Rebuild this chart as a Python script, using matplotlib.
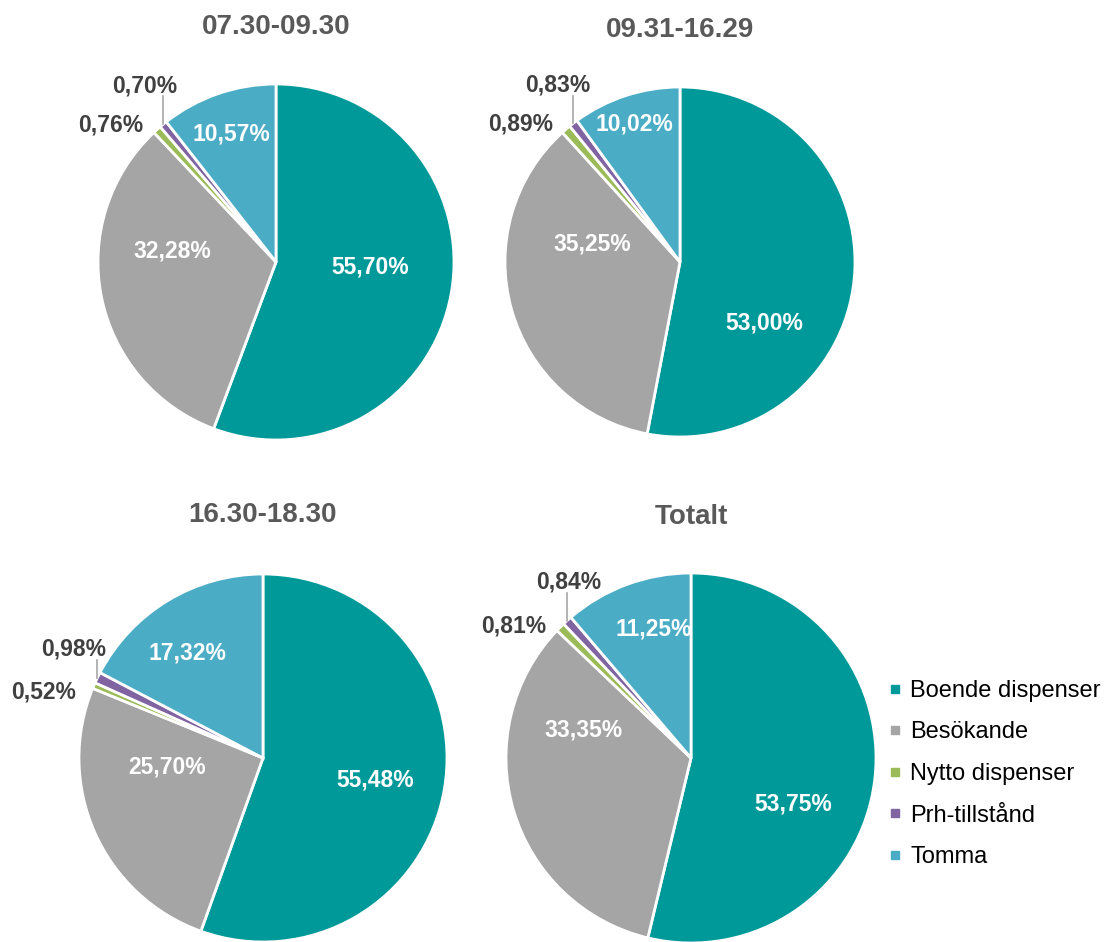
import numpy as np
import matplotlib.pyplot as plt
from matplotlib.lines import Line2D

# Data
categories = ["Boende dispenser", "Besökande", "Nytto dispenser", "Prh-tillstånd", "Tomma"]
titles = ["07.30-09.30", "09.31-16.29", "16.30-18.30", "Totalt"]
shares_0730 = [55.70, 32.28, 0.76, 0.70, 10.57]
shares_0931 = [53.00, 35.25, 0.89, 0.83, 10.02]
shares_1630 = [55.48, 25.70, 0.52, 0.98, 17.32]
shares_total = [53.75, 33.35, 0.81, 0.84, 11.25]
all_shares = [shares_0730, shares_0931, shares_1630, shares_total]

colors = ["#009999", "#A5A5A5", "#9BBB59", "#8064A2", "#4BACC6"]
inside = [True, True, False, False, True]

# Layout (pixels): pie centre x, centre y, radius
W, H = 1105, 942
pies = [(276, 262, 178), (680, 262, 175), (263, 758, 184), (691, 758, 185)]
title_y = [27, 30, 515, 517]

# label positions in pie units (radius = 1)
label_pos = [
    [(0.53, -0.03), (-0.58, 0.06), (-0.93, 0.77), (-0.74, 0.99), (-0.25, 0.72)],
    [(0.48, -0.35), (-0.50, 0.10), (-0.91, 0.79), (-0.70, 1.01), (-0.26, 0.79)],
    [(0.61, -0.12), (-0.52, -0.05), (-1.19, 0.36), (-1.03, 0.59), (-0.41, 0.57)],
    [(0.55, -0.25), (-0.58, 0.15), (-0.96, 0.715), (-0.66, 0.95), (-0.20, 0.70)],
]

plt.rcParams["font.family"] = ["Liberation Sans", "DejaVu Sans"]

fig = plt.figure(figsize=(W / 100, H / 100), dpi=100)

for i, (cx, cy, r) in enumerate(pies):
    ax = fig.add_axes([(cx - r) / W, 1 - (cy + r) / H, 2 * r / W, 2 * r / H])
    vals = all_shares[i]
    wedges, _ = ax.pie(vals, colors=colors, startangle=90, counterclock=False,
                       radius=1, wedgeprops=dict(edgecolor="white", linewidth=2))
    ax.set_xlim(-1, 1)
    ax.set_ylim(-1, 1)
    ax.set_aspect("equal")
    ax.axis("off")

    for j, v in enumerate(vals):
        txt = f"{v:.2f}".replace(".", ",") + "%"
        x, y = label_pos[i][j]
        col = "white" if inside[j] else "#404040"
        ax.text(x, y, txt, ha="center", va="center", fontsize=16.5,
                fontweight="bold", color=col, clip_on=False)

    # leader line for the Prh slice
    w = wedges[3]
    ang = np.deg2rad((w.theta1 + w.theta2) / 2)
    ex, ey = np.cos(ang), np.sin(ang)
    ly = label_pos[i][3][1] - 0.06
    ax.plot([ex, ex], [ey, ly], color="#A5A5A5", lw=1.2, clip_on=False)

    fig.text(cx / W, 1 - title_y[i] / H, titles[i], ha="center", va="center",
             fontsize=20, fontweight="bold", color="#595959")

handles = [Line2D([], [], marker="s", linestyle="none", markersize=6,
                  markerfacecolor=c, markeredgecolor=c) for c in colors]
fig.legend(handles, categories, loc="center left",
           bbox_to_anchor=(888 / W, 1 - 774 / H), frameon=False,
           fontsize=17, handlelength=0.6, handletextpad=0.35,
           labelspacing=0.83, borderpad=0, borderaxespad=0)

fig.savefig("out.png", dpi=100)
